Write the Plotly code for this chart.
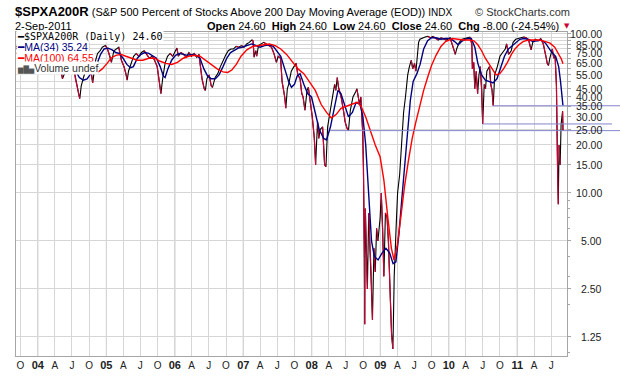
import math
import plotly.graph_objects as go

# ---------------- data ----------------
spx_dates = [
    "2003-09-08", "2003-09-22", "2003-10-06", "2003-10-20", "2003-11-03", "2003-11-17", "2003-12-01", "2003-12-15", "2003-12-29",
    "2004-01-12", "2004-01-26", "2004-02-09", "2004-02-23", "2004-03-08", "2004-03-22", "2004-04-05", "2004-04-19", "2004-05-03",
    "2004-05-12", "2004-05-20", "2004-05-28", "2004-06-10", "2004-06-25", "2004-07-09", "2004-07-20", "2004-07-30", "2004-08-06",
    "2004-08-12", "2004-08-20", "2004-09-01", "2004-09-15", "2004-09-29", "2004-10-13", "2004-10-20", "2004-10-28", "2004-11-05",
    "2004-11-15", "2004-11-29", "2004-12-10", "2004-12-27",
    "2005-01-07", "2005-01-20", "2005-01-28", "2005-02-10", "2005-02-24", "2005-03-08", "2005-03-22", "2005-04-05", "2005-04-15",
    "2005-04-22", "2005-04-29", "2005-05-12", "2005-05-26", "2005-06-09", "2005-06-23", "2005-07-07", "2005-07-21", "2005-08-04",
    "2005-08-18", "2005-09-01", "2005-09-15", "2005-09-29", "2005-10-10", "2005-10-19", "2005-10-28", "2005-11-10", "2005-11-23",
    "2005-12-07", "2005-12-21",
    "2006-01-05", "2006-01-12", "2006-01-20", "2006-02-03", "2006-02-17", "2006-03-03", "2006-03-17", "2006-03-31", "2006-04-14",
    "2006-04-28", "2006-05-10", "2006-05-19", "2006-05-26", "2006-06-07", "2006-06-13", "2006-06-21", "2006-07-03", "2006-07-14",
    "2006-07-21", "2006-08-04", "2006-08-18", "2006-09-01", "2006-09-15", "2006-09-29", "2006-10-13", "2006-10-27", "2006-11-10",
    "2006-11-24", "2006-12-08", "2006-12-22",
    "2007-01-05", "2007-01-19", "2007-02-02", "2007-02-16", "2007-02-22", "2007-02-28", "2007-03-09", "2007-03-14", "2007-03-23",
    "2007-04-05", "2007-04-20", "2007-05-04", "2007-05-18", "2007-06-01", "2007-06-15", "2007-06-27", "2007-07-06", "2007-07-19",
    "2007-07-27", "2007-08-03", "2007-08-10", "2007-08-16", "2007-08-24", "2007-08-31", "2007-09-14", "2007-09-28", "2007-10-10",
    "2007-10-19", "2007-10-31", "2007-11-09", "2007-11-16", "2007-11-26", "2007-12-07", "2007-12-14", "2007-12-21",
    "2008-01-04", "2008-01-15", "2008-01-22", "2008-02-01", "2008-02-08", "2008-02-15", "2008-02-28", "2008-03-10", "2008-03-17",
    "2008-03-26", "2008-04-04", "2008-04-18", "2008-05-02", "2008-05-09", "2008-05-16", "2008-05-23", "2008-06-06", "2008-06-20",
    "2008-06-27", "2008-07-07", "2008-07-15", "2008-07-25", "2008-08-08", "2008-08-22", "2008-08-29", "2008-09-12", "2008-09-19",
    "2008-09-29", "2008-10-03", "2008-10-08", "2008-10-10", "2008-10-13", "2008-10-17", "2008-10-24", "2008-10-31", "2008-11-07",
    "2008-11-14", "2008-11-20", "2008-11-28", "2008-12-05", "2008-12-12", "2008-12-19", "2008-12-31",
    "2009-01-06", "2009-01-13", "2009-01-20", "2009-01-28", "2009-02-06", "2009-02-13", "2009-02-23", "2009-03-02", "2009-03-09",
    "2009-03-16", "2009-03-26", "2009-04-03", "2009-04-14", "2009-04-24", "2009-05-05", "2009-05-15", "2009-05-27", "2009-06-05",
    "2009-06-15", "2009-06-23", "2009-07-02", "2009-07-10", "2009-07-17", "2009-07-24", "2009-07-31", "2009-08-14", "2009-08-28",
    "2009-09-11", "2009-09-25", "2009-10-09", "2009-10-23", "2009-11-06", "2009-11-20", "2009-12-04", "2009-12-18",
    "2010-01-08", "2010-01-22", "2010-02-05", "2010-02-12", "2010-02-26", "2010-03-12", "2010-03-26", "2010-04-09", "2010-04-23",
    "2010-05-04", "2010-05-07", "2010-05-14", "2010-05-20", "2010-05-27", "2010-06-04", "2010-06-11", "2010-06-18", "2010-06-25",
    "2010-07-01", "2010-07-09", "2010-07-16", "2010-07-23", "2010-08-06", "2010-08-13", "2010-08-20", "2010-08-26", "2010-09-03",
    "2010-09-17", "2010-10-01", "2010-10-15", "2010-10-29", "2010-11-05", "2010-11-16", "2010-11-30", "2010-12-10", "2010-12-24",
    "2011-01-07", "2011-01-21", "2011-02-04", "2011-02-18", "2011-03-04", "2011-03-16", "2011-03-25", "2011-04-08", "2011-04-22",
    "2011-05-06", "2011-05-20", "2011-06-03", "2011-06-10", "2011-06-17", "2011-06-24", "2011-07-07", "2011-07-15", "2011-07-22",
    "2011-07-29", "2011-08-04", "2011-08-08", "2011-08-12", "2011-08-18", "2011-08-23", "2011-08-31", "2011-09-02",
]
spx_values = [
    82, 86, 84, 88, 90, 84, 89, 92, 93,
    94, 90, 91, 86, 80, 68, 78, 74, 60,
    52, 55, 58, 66, 70, 62, 52, 46, 42,
    39, 47, 53, 60, 64, 56, 49, 58, 68,
    75, 78, 82, 84,
    80, 72, 66, 78, 80, 82, 68, 62, 56,
    51, 58, 64, 72, 75, 72, 76, 78, 74,
    70, 72, 68, 62, 50, 42, 52, 65, 72,
    75, 72,
    78, 81, 72, 76, 74, 71, 76, 72, 75,
    71, 74, 60, 52, 45, 44, 52, 55, 47,
    46, 53, 56, 62, 68, 73, 78, 80, 80,
    83, 82, 84,
    82, 86, 88, 91, 90, 71, 78, 72, 84,
    86, 88, 86, 84, 82, 74, 66, 72, 70,
    50, 45, 40, 34, 45, 48, 58, 62, 65,
    55, 52, 42, 40, 33, 44, 46, 40,
    30, 22, 15, 28, 22, 25, 26, 15, 14.6,
    26, 30, 38, 48, 44, 53, 46, 40, 32,
    28, 25.5, 24.6, 33, 40, 43, 45, 36, 40,
    24, 14, 4, 1.5, 8, 4.6, 2.5, 7.5, 4.5,
    3, 1.6, 4.5, 3.2, 6, 5, 7,
    10, 6, 3, 7.5, 7, 5, 2.2, 1.3, 1.05,
    3, 6, 10, 13, 20, 32, 40, 55, 62,
    68, 60, 65, 58, 72, 88, 92, 94, 95,
    96, 94, 96, 93, 91, 94, 93, 91,
    94, 84, 74, 80, 88, 92, 93, 94, 95,
    86, 60, 66, 45, 58, 42, 55, 62, 45,
    27.1, 48, 45, 58, 62, 48, 44, 35.2, 55,
    62, 72, 76, 80, 86, 74, 78, 88, 92,
    93, 94, 95, 94, 90, 79, 88, 92, 90,
    93, 86, 72, 65, 63, 70, 80, 70, 72,
    48, 15, 8.5, 20, 15, 27, 32.6, 24.6,
]

ma34_dates = [
    "2003-09-08", "2003-10-15", "2003-11-15", "2003-12-15", "2004-01-15", "2004-02-15", "2004-03-15", "2004-04-15", "2004-05-15",
    "2004-06-15", "2004-07-15", "2004-08-10", "2004-08-31", "2004-09-20", "2004-10-10", "2004-10-25", "2004-11-15", "2004-12-01",
    "2004-12-20", "2005-01-10", "2005-02-01", "2005-02-20", "2005-03-10", "2005-03-31", "2005-04-20", "2005-05-10", "2005-05-25",
    "2005-06-15", "2005-07-05", "2005-07-25", "2005-08-15", "2005-09-05", "2005-09-25", "2005-10-15", "2005-11-01", "2005-11-10",
    "2005-11-25", "2005-12-15", "2006-01-05", "2006-01-25", "2006-02-15", "2006-03-10", "2006-04-05", "2006-04-25", "2006-05-15",
    "2006-06-05", "2006-06-25", "2006-07-15", "2006-08-05", "2006-08-25", "2006-09-15", "2006-10-05", "2006-10-25", "2006-11-15",
    "2006-12-05", "2006-12-25", "2007-01-20", "2007-02-15", "2007-03-10", "2007-04-01", "2007-04-25", "2007-05-20", "2007-06-10",
    "2007-07-01", "2007-07-20", "2007-08-10", "2007-08-31", "2007-09-15", "2007-10-01", "2007-10-15", "2007-10-31", "2007-11-20",
    "2007-12-10", "2007-12-31", "2008-01-20", "2008-02-10", "2008-03-05", "2008-03-20", "2008-04-10", "2008-04-30", "2008-05-20",
    "2008-06-05", "2008-06-25", "2008-07-15", "2008-08-05", "2008-08-25", "2008-09-15", "2008-09-30", "2008-10-15", "2008-10-31",
    "2008-11-15", "2008-11-30", "2008-12-20", "2009-01-10", "2009-01-31", "2009-02-20", "2009-03-10", "2009-03-25", "2009-04-10",
    "2009-04-25", "2009-05-10", "2009-05-25", "2009-06-10", "2009-06-25", "2009-07-15", "2009-08-01", "2009-08-20", "2009-09-10",
    "2009-10-01", "2009-10-25", "2009-11-20", "2009-12-15", "2010-01-10", "2010-02-01", "2010-02-20", "2010-03-15", "2010-04-10",
    "2010-05-01", "2010-05-20", "2010-06-05", "2010-06-25", "2010-07-15", "2010-08-05", "2010-08-25", "2010-09-15", "2010-10-05",
    "2010-10-25", "2010-11-15", "2010-12-05", "2010-12-25", "2011-01-15", "2011-02-05", "2011-03-01", "2011-03-25", "2011-04-20",
    "2011-05-10", "2011-06-01", "2011-06-10", "2011-07-05", "2011-07-25", "2011-08-10", "2011-08-20", "2011-09-02",
]
ma34_values = [
    80, 84, 87, 88, 91, 90, 82, 74, 65,
    60, 60, 53, 51, 52, 56, 58, 66, 74,
    80, 81, 79, 76, 75, 70, 64, 61, 62,
    70, 74, 76, 75, 72, 70, 62, 54, 53,
    60, 68, 73, 75, 74, 73, 74, 73, 70,
    60, 54, 52, 52, 55, 62, 70, 76, 79,
    81, 82, 84, 86, 84, 82, 84, 85, 83,
    77, 72, 60, 50, 46, 48, 54, 56, 48,
    42, 40, 32, 25, 22, 21.5, 26, 34, 44,
    42, 35, 30, 32, 37, 36, 30, 20, 9,
    5, 4, 3.8, 4.2, 4.5, 4.2, 3.6, 3.7, 5.5,
    9, 15, 25, 38, 50, 56, 64, 80, 90,
    94, 94, 92, 93, 93, 89, 85, 90, 93,
    93, 82, 65, 55, 51, 50, 49, 52, 62,
    72, 80, 84, 88, 92, 93, 92, 89, 90,
    91, 87, 84, 76, 72, 62, 50, 35.24,
]

ma100_dates = [
    "2003-09-08", "2003-11-01", "2004-01-01", "2004-03-01", "2004-04-15", "2004-06-01", "2004-07-15", "2004-09-01", "2004-10-20",
    "2004-11-20", "2004-12-10", "2005-01-05", "2005-01-25", "2005-02-20", "2005-03-20", "2005-04-15", "2005-05-15", "2005-06-15",
    "2005-07-15", "2005-08-15", "2005-09-15", "2005-10-15", "2005-11-15", "2005-12-15", "2006-01-15", "2006-02-15", "2006-03-15",
    "2006-04-15", "2006-05-15", "2006-06-15", "2006-07-15", "2006-08-15", "2006-09-15", "2006-10-10", "2006-11-01", "2006-11-25",
    "2006-12-20", "2007-01-20", "2007-02-20", "2007-03-20", "2007-04-20", "2007-05-20", "2007-06-20", "2007-07-20", "2007-08-20",
    "2007-09-20", "2007-10-20", "2007-11-20", "2007-12-20", "2008-01-20", "2008-02-20", "2008-03-20", "2008-04-15", "2008-05-10",
    "2008-06-05", "2008-07-01", "2008-08-01", "2008-09-01", "2008-09-20", "2008-10-15", "2008-11-10", "2008-12-05", "2008-12-31",
    "2009-01-20", "2009-02-10", "2009-03-01", "2009-03-15", "2009-03-31", "2009-04-20", "2009-05-10", "2009-05-31", "2009-06-20",
    "2009-07-10", "2009-08-01", "2009-08-20", "2009-09-10", "2009-10-01", "2009-10-25", "2009-11-20", "2009-12-15", "2010-01-20",
    "2010-02-20", "2010-03-20", "2010-04-20", "2010-05-15", "2010-06-05", "2010-06-25", "2010-07-15", "2010-08-05", "2010-08-25",
    "2010-09-10", "2010-09-30", "2010-10-20", "2010-11-10", "2010-12-01", "2010-12-20", "2011-01-10", "2011-02-01", "2011-03-01",
    "2011-04-01", "2011-05-01", "2011-06-01", "2011-06-25", "2011-07-20", "2011-08-10", "2011-08-25", "2011-09-02",
]
ma100_values = [
    75, 80, 86, 88, 84, 74, 66, 60, 57.5,
    57.5, 60, 65, 70, 73, 74, 72, 70, 68,
    68, 70, 70, 67, 65, 64, 66, 70, 72,
    73, 72, 68, 64, 60, 57.5, 57, 59, 64,
    72, 79, 83, 84, 85, 86, 84, 80, 74,
    66, 60, 56, 50, 44, 36, 32, 29.5, 31,
    34, 35, 36, 37, 35, 30, 24, 20, 16.8,
    12, 7, 4.5, 3.8, 4.6, 7, 11, 16, 22,
    28, 36, 44, 53, 63, 73, 83, 89, 93,
    92, 91, 91, 90, 85, 78, 70, 64, 58,
    55, 56, 60, 66, 74, 80, 85, 89, 91,
    91, 91, 89, 87, 82, 75, 69, 64.55,
]

# horizontal level lines drawn on the chart
level_starts = ["2008-04-08", "2010-07-01", "2010-08-26"]
level_values = [24.6, 27.1, 35.24]
level_right_px = [620, 612, 620]

# axis ticks
years = [2004, 2005, 2006, 2007, 2008, 2009, 2010, 2011]
tick_dates = ["2003-10-01"]
tick_text = ["O"]
for yr in years:
    tick_dates += [f"{yr}-01-01", f"{yr}-04-01", f"{yr}-07-01"]
    tick_text += [f"<span style='font-size:11px'><b>{str(yr)[2:]}</b></span>", "A", "J"]
    if yr < 2011:
        tick_dates.append(f"{yr}-10-01")
        tick_text.append("O")

grid_vals = [1.25, 2.5, 5, 10, 15, 20, 25, 30, 35, 40, 45, 50, 55, 60, 65, 70, 75, 80, 85, 90, 95, 100]
label_vals = [1.25, 2.5, 5, 10, 15, 20, 25, 30, 35, 40, 45, 55, 65, 75, 85, 100]
minor_vals = [1, 2, 3, 4, 6, 7, 8, 9]

# ---------------- layout geometry ----------------
W, H = 620, 376
ML, MR, MT, MB = 16, 15, 32, 20
PLOT_RIGHT = 567
PW = W - ML - MR
PH = H - MT - MB


def px(x):
    return (x - ML) / PW


def py(y):
    return (H - MB - y) / PH


dom_end = px(PLOT_RIGHT)
x_range = ["2003-09-07", "2011-09-23 12:00"]
y_range = [-0.0223, 2.0095]

SANS = "Liberation Sans, Arial, sans-serif"
CRIMSON = "#cc0033"
NAVY = "#000080"
RED = "#ff0000"
GRID = "#d6d6d6"

fig = go.Figure()

# price line: black base with crimson falling segments (StockCharts style)
fig.add_trace(go.Scatter(x=spx_dates, y=spx_values, mode="lines",
                         line=dict(color="#000000", width=1.1), hoverinfo="skip", showlegend=False))
down_x, down_y = [], []
for i in range(len(spx_values) - 1):
    if spx_values[i + 1] < spx_values[i]:
        down_x += [spx_dates[i], spx_dates[i + 1], None]
        down_y += [spx_values[i], spx_values[i + 1], None]
fig.add_trace(go.Scatter(x=down_x, y=down_y, mode="lines", connectgaps=False,
                         line=dict(color=CRIMSON, width=1.2), hoverinfo="skip", showlegend=False))
fig.add_trace(go.Scatter(x=ma34_dates, y=ma34_values, mode="lines",
                         line=dict(color=NAVY, width=1.4), hoverinfo="skip", showlegend=False))
fig.add_trace(go.Scatter(x=ma100_dates, y=ma100_values, mode="lines",
                         line=dict(color=RED, width=1.4), hoverinfo="skip", showlegend=False))

shapes = []
for yr in years:
    shapes.append(dict(type="line", xref="x", yref="paper", x0=f"{yr}-01-01", x1=f"{yr}-01-01",
                       y0=0, y1=1, line=dict(color="#b6b6b6", width=1), layer="below"))
for start, lvl, rpx in zip(level_starts, level_values, level_right_px):
    shapes.append(dict(type="line", xref="x", yref="y", x0=start, x1=x_range[1], y0=lvl, y1=lvl,
                       line=dict(color="#8585cc", width=1)))
    shapes.append(dict(type="line", xref="paper", yref="y", x0=dom_end, x1=px(rpx), y0=lvl, y1=lvl,
                       line=dict(color="#8585cc", width=1)))

annotations = [
    dict(xref="paper", yref="paper", x=px(13), y=py(12), xanchor="left", yanchor="middle", showarrow=False,
         text="<span style='font-size:13px'><b>$SPXA200R</b></span> (S&amp;P 500 Percent of Stocks Above 200 Day Moving Average (EOD))"
              " <span style='font-size:10px'>INDX</span>",
         font=dict(family=SANS, size=11, color="#000")),
    dict(xref="paper", yref="paper", x=px(572), y=py(12), xanchor="right", yanchor="middle", showarrow=False,
         text="© StockCharts.com", font=dict(family=SANS, size=11, color="#333")),
    dict(xref="paper", yref="paper", x=px(13), y=py(26), xanchor="left", yanchor="middle", showarrow=False,
         text="2-Sep-2011", font=dict(family=SANS, size=11, color="#000")),
    dict(xref="paper", yref="paper", x=px(561), y=py(26), xanchor="right", yanchor="middle", showarrow=False,
         text="<b>Open</b> 24.60\u00a0 <b>High</b> 24.60\u00a0 <b>Low</b> 24.60\u00a0 <b>Close</b> 24.60\u00a0 <b>Chg</b> -8.00 (-24.54%)",
         font=dict(family=SANS, size=11, color="#000")),
    dict(xref="paper", yref="paper", x=px(567), y=py(26), xanchor="center", yanchor="middle", showarrow=False,
         text="▼", font=dict(family="DejaVu Sans", size=7, color=CRIMSON)),
    # legend rows (white backgrounds hide the data behind them)
    dict(xref="paper", yref="paper", x=px(16), y=py(36.5), xanchor="left", yanchor="middle", showarrow=False,
         text="<span style='font-family:DejaVu Sans'>━</span>$SPXA200R (Daily) 24.60", bgcolor="#ffffff", borderpad=0,
         font=dict(family="DejaVu Sans Mono", size=10, color="#000")),
    dict(xref="paper", yref="paper", x=px(16), y=py(47), xanchor="left", yanchor="middle", showarrow=False,
         text="<span style='font-family:DejaVu Sans'>━</span>MA(34) 35.24", bgcolor="#ffffff", borderpad=0,
         font=dict(family=SANS, size=10.5, color=NAVY)),
    dict(xref="paper", yref="paper", x=px(16), y=py(57.5), xanchor="left", yanchor="middle", showarrow=False,
         text="<span style='font-family:DejaVu Sans'>━</span>MA(100) 64.55", bgcolor="#ffffff", borderpad=0,
         font=dict(family=SANS, size=10.5, color=RED)),
    dict(xref="paper", yref="paper", x=px(16), y=py(68), xanchor="left", yanchor="middle", showarrow=False,
         text="<span style='font-family:DejaVu Sans;font-size:7px;color:#555'>▆█▅</span>Volume undef", bgcolor="#ffffff", borderpad=0,
         font=dict(family=SANS, size=10.5, color="#333")),
]
# right-hand axis labels, right-aligned like the reference
for v in label_vals:
    annotations.append(dict(xref="paper", yref="y", x=px(604), y=math.log10(v), xanchor="right", yanchor="middle",
                            showarrow=False, text=f"{v:.2f}", font=dict(family=SANS, size=10.5, color="#222")))

fig.update_layout(
    width=W, height=H, margin=dict(l=ML, r=MR, t=MT, b=MB, autoexpand=False),
    paper_bgcolor="white", plot_bgcolor="white", showlegend=False,
    xaxis=dict(domain=[0, dom_end], type="date", range=x_range, tickvals=tick_dates, ticktext=tick_text,
               tickangle=0, ticks="", showgrid=True, gridcolor=GRID, gridwidth=1, zeroline=False,
               showline=True, linecolor="#a6a6a6", mirror=True, automargin=False,
               tickfont=dict(family=SANS, size=10, color="#222")),
    yaxis=dict(type="log", range=y_range, side="right", tickvals=grid_vals, showticklabels=False,
               ticks="outside", ticklen=3, tickcolor="#a6a6a6", showgrid=True, gridcolor=GRID,
               zeroline=False, showline=True, linecolor="#a6a6a6", mirror=True, automargin=False,
               minor=dict(tickvals=minor_vals, ticks="outside", ticklen=2, tickcolor="#a6a6a6", showgrid=False)),
    shapes=shapes, annotations=annotations,
)

# remove the browser's default 8px body margin so the figure sits at the page origin
fig.write_html("out.html", config={"displayModeBar": False, "staticPlot": True},
               post_script="document.body.style.margin='0';document.body.style.overflow='hidden';")
